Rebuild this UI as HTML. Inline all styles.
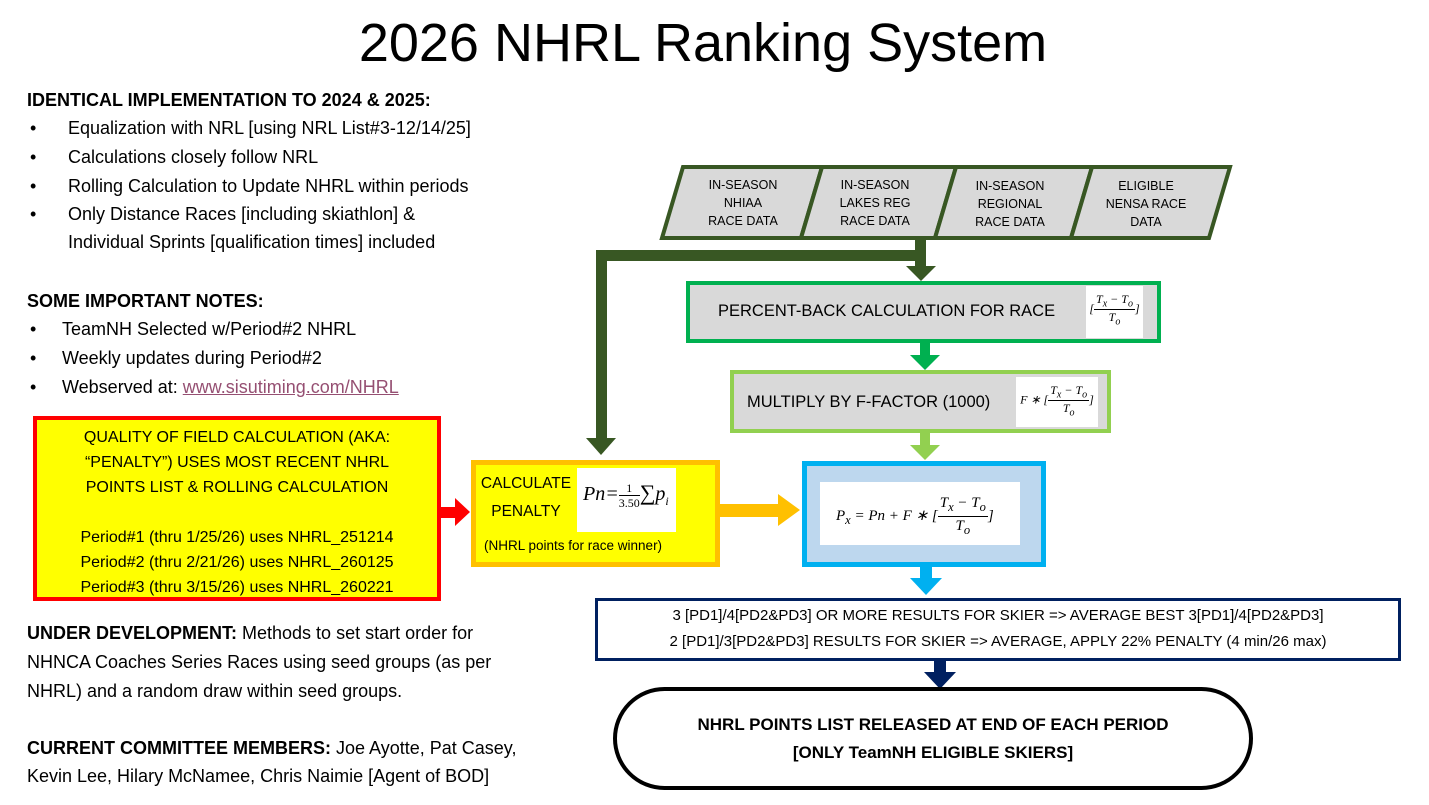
<!DOCTYPE html>
<html><head><meta charset="utf-8"><style>
body{margin:0;width:1429px;height:805px;background:#fff;position:relative;overflow:hidden;font-family:"Liberation Sans",sans-serif;color:#000}
.a{position:absolute;white-space:nowrap}
.t{font-size:18px}
.b{font-weight:bold}
.box{position:absolute;box-sizing:border-box;white-space:nowrap}
.c{text-align:center}
.m{font-family:"Liberation Serif",serif;font-style:italic}
.fr{display:inline-block;text-align:center;vertical-align:middle}
.fr .n{display:block;border-bottom:1px solid #000;padding:0 2px}
</style></head><body>
<div class="a" style="left:0;width:1406px;top:12px;text-align:center;font-size:54px;">2026 NHRL Ranking System</div>

<div class="a t b" style="left:27px;top:90px">IDENTICAL IMPLEMENTATION TO 2024 &amp; 2025:</div>
<div class="a t" style="left:30px;top:118px">•</div><div class="a t" style="left:68px;top:118px">Equalization with NRL [using NRL List#3-12/14/25]</div>
<div class="a t" style="left:30px;top:147px">•</div><div class="a t" style="left:68px;top:147px">Calculations closely follow NRL</div>
<div class="a t" style="left:30px;top:176px">•</div><div class="a t" style="left:68px;top:176px">Rolling Calculation to Update NHRL within periods</div>
<div class="a t" style="left:30px;top:204px">•</div><div class="a t" style="left:68px;top:204px">Only Distance Races [including skiathlon] &amp;</div>
<div class="a t" style="left:68px;top:232px">Individual Sprints [qualification times] included</div>

<div class="a t b" style="left:27px;top:291px">SOME IMPORTANT NOTES:</div>
<div class="a t" style="left:30px;top:319px">•</div><div class="a t" style="left:62px;top:319px">TeamNH Selected w/Period#2 NHRL</div>
<div class="a t" style="left:30px;top:348px">•</div><div class="a t" style="left:62px;top:348px">Weekly updates during Period#2</div>
<div class="a t" style="left:30px;top:377px">•</div><div class="a t" style="left:62px;top:377px">Webserved at: <span style="color:#954f72;text-decoration:underline">www.sisutiming.com/NHRL</span></div>

<div class="box c" style="left:33px;top:416px;width:408px;height:185px;background:#ffff00;border:4px solid #ff0000;font-size:16px;line-height:25px;padding-top:5px">QUALITY OF FIELD CALCULATION (AKA:<br>“PENALTY”) USES MOST RECENT NHRL<br>POINTS LIST &amp; ROLLING CALCULATION<br><div style="height:25px"></div>Period#1 (thru 1/25/26) uses NHRL_251214<br>Period#2 (thru 2/21/26) uses NHRL_260125<br>Period#3 (thru 3/15/26) uses NHRL_260221</div>

<div class="a t" style="left:27px;top:623px"><b>UNDER DEVELOPMENT:</b> Methods to set start order for</div>
<div class="a t" style="left:27px;top:652px">NHNCA Coaches Series Races using seed groups (as per</div>
<div class="a t" style="left:27px;top:681px">NHRL) and a random draw within seed groups.</div>
<div class="a t" style="left:27px;top:738px"><b>CURRENT COMMITTEE MEMBERS:</b> Joe Ayotte, Pat Casey,</div>
<div class="a t" style="left:27px;top:766px">Kevin Lee, Hilary McNamee, Chris Naimie [Agent of BOD]</div>

<svg class="a" style="left:0;top:0" width="1429" height="805">
 <g fill="#d9d9d9" stroke="#385723" stroke-width="4">
  <polygon points="683,167 822,167 801,238 662,238"/>
  <polygon points="822,167 956,167 935,238 801,238"/>
  <polygon points="956,167 1092,167 1071,238 935,238"/>
  <polygon points="1092,167 1230,167 1209,238 1071,238"/>
 </g>
 <g fill="#385723">
  <rect x="596" y="250" width="330" height="11"/>
  <rect x="915" y="238" width="11" height="30"/>
  <polygon points="906,266 936,266 921,281"/>
  <rect x="596" y="250" width="11" height="190"/>
  <polygon points="586,438 616,438 601,455"/>
 </g>
 <rect x="920" y="343" width="10" height="14" fill="#00b050"/><polygon points="910,355 940,355 925,370" fill="#00b050"/>
 <rect x="920" y="433" width="10" height="14" fill="#92d050"/><polygon points="910,445 940,445 925,460" fill="#92d050"/>
 <rect x="441" y="507" width="16" height="11" fill="#ff0000"/><polygon points="455,498 470,512 455,526" fill="#ff0000"/>
 <rect x="719" y="504" width="62" height="13" fill="#ffc000"/><polygon points="778,494 800,510 778,526" fill="#ffc000"/>
 <rect x="920" y="567" width="12" height="14" fill="#00b0f0"/><polygon points="910,578 942,578 926,595" fill="#00b0f0"/>
 <rect x="934" y="660" width="12" height="14" fill="#002060"/><polygon points="924,672 956,672 940,689" fill="#002060"/>
</svg>

<div class="a c" style="left:683px;top:176px;width:120px;font-size:12.5px;line-height:18px">IN-SEASON<br>NHIAA<br>RACE DATA</div>
<div class="a c" style="left:815px;top:176px;width:120px;font-size:12.5px;line-height:18px">IN-SEASON<br>LAKES REG<br>RACE DATA</div>
<div class="a c" style="left:950px;top:177px;width:120px;font-size:12.5px;line-height:18px">IN-SEASON<br>REGIONAL<br>RACE DATA</div>
<div class="a c" style="left:1086px;top:177px;width:120px;font-size:12.5px;line-height:18px">ELIGIBLE<br>NENSA RACE<br>DATA</div>

<div class="box" style="left:686px;top:281px;width:475px;height:62px;background:#d9d9d9;border:4px solid #00b050"></div>
<div class="a" style="left:718px;top:302px;font-size:16.5px">PERCENT-BACK CALCULATION FOR RACE</div>
<div class="box c m" style="left:1086px;top:286px;width:57px;height:52px;background:#fff;font-size:12px;padding-top:6px">[<span class="fr"><span class="n">T<sub>x</sub> − T<sub>o</sub></span>T<sub>o</sub></span>]</div>

<div class="box" style="left:730px;top:370px;width:381px;height:63px;background:#d9d9d9;border:4px solid #92d050"></div>
<div class="a" style="left:747px;top:393px;font-size:16.5px">MULTIPLY BY F-FACTOR (1000)</div>
<div class="box c m" style="left:1016px;top:377px;width:82px;height:50px;background:#fff;font-size:12px;padding-top:6px">F ∗ [<span class="fr"><span class="n">T<sub>x</sub> − T<sub>o</sub></span>T<sub>o</sub></span>]</div>

<div class="box" style="left:471px;top:460px;width:249px;height:107px;background:#ffff00;border:5px solid #ffc000"></div>
<div class="a c" style="left:476px;top:470px;width:100px;font-size:15.5px;line-height:28px">CALCULATE<br>PENALTY</div>
<div class="box m" style="left:577px;top:468px;width:99px;height:64px;background:#fff;font-size:20px;padding:12px 0 0 6px">Pn=<span class="fr" style="font-size:12px;font-style:normal;line-height:14px"><span class="n">1</span>3.50</span><span style="font-style:normal;font-size:22px">∑</span>p<sub style="font-size:12px">i</sub></div>
<div class="a" style="left:484px;top:538px;font-size:13.5px">(NHRL points for race winner)</div>

<div class="box" style="left:802px;top:461px;width:244px;height:106px;background:#bdd7ee;border:5px solid #00b0f0"></div>
<div class="box m" style="left:820px;top:482px;width:200px;height:63px;background:#fff;font-size:15px;padding:12px 0 0 16px;line-height:18px">P<sub>x</sub> = Pn + F ∗ [<span class="fr"><span class="n">T<sub>x</sub> − T<sub>o</sub></span>T<sub>o</sub></span>]</div>

<div class="box c" style="left:595px;top:598px;width:806px;height:63px;border:3px solid #002060;font-size:15px;line-height:26px;padding-top:2px">3 [PD1]/4[PD2&amp;PD3] OR MORE RESULTS FOR SKIER =&gt; AVERAGE BEST 3[PD1]/4[PD2&amp;PD3]<br>2 [PD1]/3[PD2&amp;PD3] RESULTS FOR SKIER =&gt; AVERAGE, APPLY 22% PENALTY (4 min/26 max)</div>

<div class="box c b" style="left:613px;top:687px;width:640px;height:103px;border:4px solid #000;border-radius:52px;font-size:17px;line-height:28px;padding-top:20px">NHRL POINTS LIST RELEASED AT END OF EACH PERIOD<br>[ONLY TeamNH ELIGIBLE SKIERS]</div>
</body></html>
